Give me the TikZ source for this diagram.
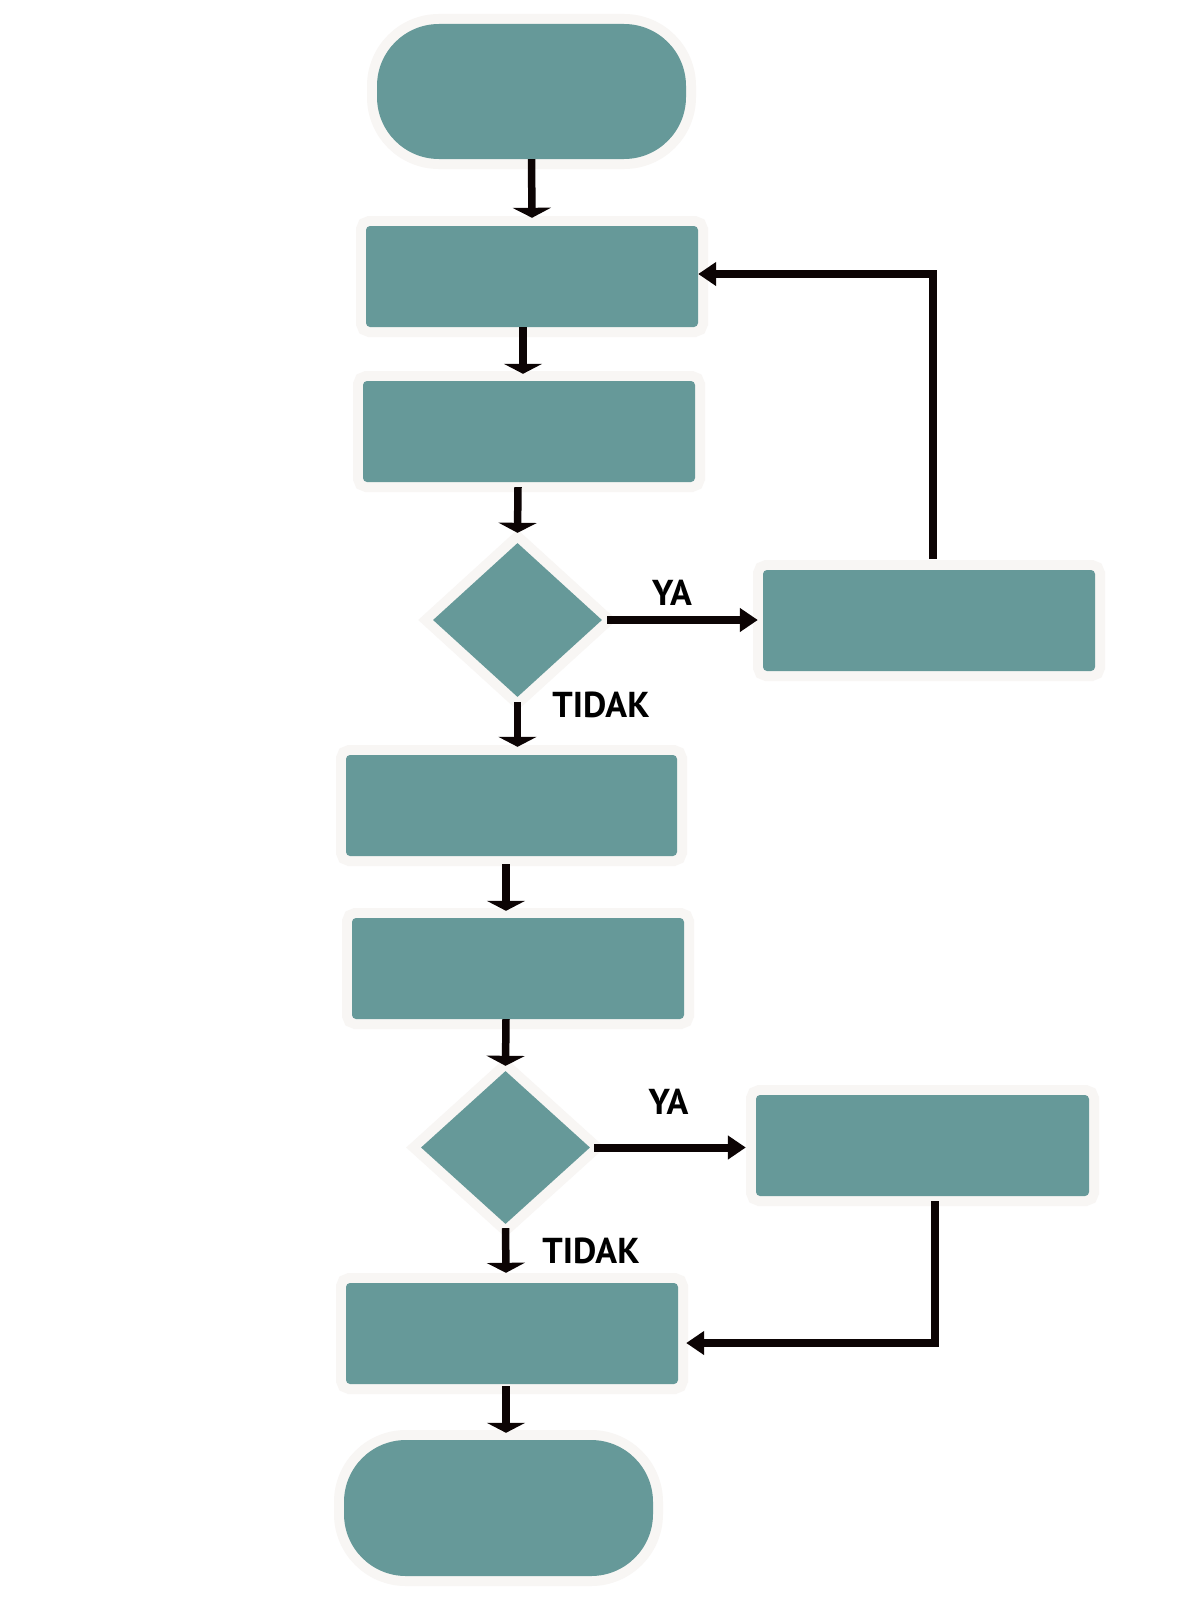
\documentclass[tikz,border=0pt]{standalone}
\usepackage{fontspec}
\setmainfont{PT Sans}
\usetikzlibrary{shapes.geometric,arrows.meta,calc}
\definecolor{tealbox}{HTML}{669999}
\definecolor{bordc}{HTML}{F8F6F4}
\definecolor{arrc}{HTML}{0C0404}
\tikzset{
  boxbase/.style={inner sep=0pt, fill=tealbox, preaction={draw=bordc, line width=20pt}},
  procbox/.style={boxbase, rectangle, rounded corners=4pt, minimum width=332pt, minimum height=101pt},
  termbox/.style={boxbase, rectangle, rounded corners=62pt, minimum width=309pt, minimum height=135pt},
  decbox/.style={boxbase, diamond, minimum width=169pt, minimum height=154pt},
  dn/.style={draw=arrc, line width=7.5pt, -{Triangle[width=38pt,length=10pt]}},
  hz/.style={draw=arrc, line width=8pt, -{Triangle[width=23pt,length=18pt]}},
  lbl/.style={inner sep=0pt, font=\bfseries\fontsize{36}{36}\selectfont, text=black}
}
\begin{document}
\begin{tikzpicture}[x=1pt,y=-1pt]
\useasboundingbox (0,0) rectangle (1200,1600);
\fill[white] (0,0) rectangle (1200,1600);

\node[termbox] (t1) at (531.5,91.5) {};
\node[procbox] (b1) at (532,276.5) {};
\node[procbox] (b2) at (529,431.5) {};
\node[decbox]  (d1) at (517.5,620) {};
\node[procbox] (r1) at (929,620.5) {};
\node[procbox, minimum width=331pt] (b3) at (511.5,805.5) {};
\node[procbox] (b4) at (518,968.5) {};
\node[decbox, minimum height=153pt] (d2) at (505.5,1147.5) {};
\node[procbox, minimum width=333pt] (r2) at (922.5,1145.5) {};
\node[procbox] (b5) at (512,1333.5) {};
\node[termbox, minimum height=136pt] (t2) at (498.5,1508) {};

\draw[dn] (t1.south) -- ($(b1.north)+(0,-8)$);
\draw[dn] ($(b1.south)+(-9,0)$) -- ($(b2.north)+(-6,-7)$);
\draw[dn] ($(b2.south)+(-11,5)$) -- ($(d1.north)+(0,-10)$);
\draw[dn] ($(d1.south)+(0,5)$) -- ($(b3.north)+(6,-8)$);
\draw[dn] ($(b3.south)+(-5.5,8)$) -- ($(b4.north)+(-12,-7)$);
\draw[dn] ($(b4.south)+(-12,0)$) -- ($(d2.north)+(0,-5)$);
\draw[dn] ($(d2.south)+(0,4)$) -- ($(b5.north)+(-6,-10)$);
\draw[dn] ($(b5.south)+(-6,2)$) -- ($(t2.north)+(7.5,-7)$);

\draw[hz] ($(d1.east)+(5,0)$) -- ($(r1.west |- d1.east)+(-5,0)$);
\draw[hz] ($(d2.east)+(4,0)$) -- ($(r2.west |- d2.east)+(-10,0)$);

\draw[hz] ($(r1.north)+(4,-11)$) |- ($(b1.east)+(0,-2.5)$);
\draw[hz] ($(r2.south)+(12.5,5)$) |- ($(b5.east)+(8,9.5)$);

\node[lbl] (ya1) at (672,592.5) {YA};
\node[lbl] (no1) at (601,704.5) {TIDAK};
\node[lbl] (ya2) at (668.5,1101.5) {YA};
\node[lbl] (no2) at (591,1250.5) {TIDAK};
\end{tikzpicture}
\end{document}
